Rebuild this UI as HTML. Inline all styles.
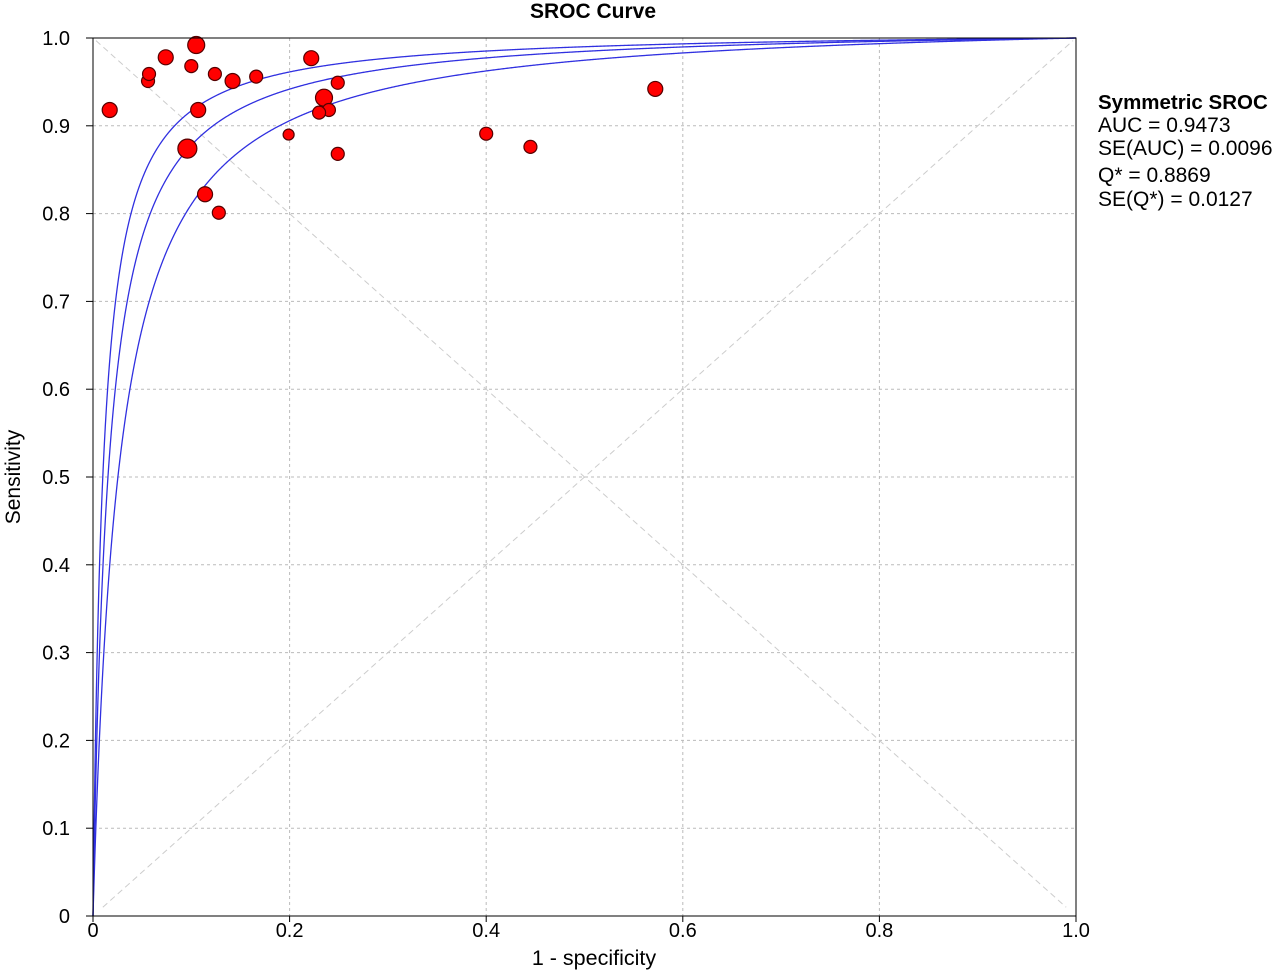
<!DOCTYPE html>
<html><head><meta charset="utf-8"><style>
body{margin:0;background:#fff;}
svg{display:block;font-family:"Liberation Sans",Arial,sans-serif;}
</style></head><body>
<svg id="chart" width="1280" height="973">
<text x="593" y="18" font-size="21" font-weight="bold" text-anchor="middle">SROC Curve</text>
<text transform="translate(20,477) rotate(-90)" font-size="21" text-anchor="middle">Sensitivity</text>
<text x="594" y="965" font-size="21.5" text-anchor="middle">1 - specificity</text>
<g font-size="21">
<text x="1098" y="109" font-weight="bold" font-size="20.5">Symmetric SROC</text>
<text x="1098" y="132">AUC = 0.9473</text>
<text x="1098" y="155">SE(AUC) = 0.0096</text>
<text x="1098" y="182">Q* = 0.8869</text>
<text x="1098" y="206">SE(Q*) = 0.0127</text>
</g>
<g id="grid"></g><g id="curves"></g><g id="points"></g><g id="axes"></g>
</svg>
<script>
const xTicks=[0,0.2,0.4,0.6,0.8,1.0];
const xTickLabels=["0","0.2","0.4","0.6","0.8","1.0"];
const yTicks=[0,0.1,0.2,0.3,0.4,0.5,0.6,0.7,0.8,0.9,1.0];
const yTickLabels=["0","0.1","0.2","0.3","0.4","0.5","0.6","0.7","0.8","0.9","1.0"];
const fprValues=[0.017,0.056,0.057,0.074,0.100,0.105,0.096,0.107,0.124,0.142,0.166,0.114,0.128,0.222,0.249,0.235,0.240,0.230,0.199,0.249,0.400,0.445,0.572];
const sensValues=[0.918,0.951,0.959,0.978,0.968,0.992,0.874,0.918,0.959,0.951,0.956,0.822,0.801,0.977,0.949,0.932,0.918,0.915,0.890,0.868,0.891,0.876,0.942];
const pointWeights=[7,6,6,7,6,8,9,7,6,7,6,7,6,7,6,8,6,6,5,6,6,6,7];
const curveParams=[4.6,4.17,3.65];
const X0=93,X1=1076,Y0=916,Y1=38;
const sx=v=>X0+v*(X1-X0), sy=v=>Y0-v*(Y0-Y1);
const NS="http://www.w3.org/2000/svg";
function mk(tag,attrs,parent){const e=document.createElementNS(NS,tag);for(const k in attrs)e.setAttribute(k,attrs[k]);parent.appendChild(e);return e;}
const grid=document.getElementById('grid'),axes=document.getElementById('axes'),curves=document.getElementById('curves'),pts=document.getElementById('points');
xTicks.forEach((t,i)=>{
 if(t>0&&t<1){const l=mk('line',{x1:sx(t),x2:sx(t),y1:Y1,y2:Y0,stroke:'#bbb','stroke-dasharray':'3,3'},grid);
 
 }
 const tk=mk('line',{x1:sx(t),x2:sx(t),y1:Y0,y2:Y0+6,stroke:'#000'},axes);
 
 
 const tx=mk('text',{x:sx(t),y:Y0+21,'font-size':20,'text-anchor':'middle'},axes);tx.textContent=xTickLabels[i];
 
 
});
yTicks.forEach((t,i)=>{
 if(t>0&&t<1){const l=mk('line',{x1:X0,x2:X1,y1:sy(t),y2:sy(t),stroke:'#bbb','stroke-dasharray':'3,3'},grid);
 
 }
 const tk=mk('line',{x1:X0-7,x2:X0,y1:sy(t),y2:sy(t),stroke:'#000'},axes);
 
 
 const tx=mk('text',{x:X0-23,y:sy(t)+7,'font-size':20,'text-anchor':'end'},axes);tx.textContent=yTickLabels[i];
 
 
});
const d1=mk('line',{x1:sx(0.003),y1:sy(0.997),x2:sx(0.99),y2:sy(0.01),stroke:'#ccc','stroke-dasharray':'6,4'},grid);


const d2=mk('line',{x1:sx(0.01),y1:sy(0.01),x2:sx(0.997),y2:sy(0.997),stroke:'#ccc','stroke-dasharray':'6,4'},grid);


const frame=mk('rect',{x:X0,y:Y1,width:X1-X0,height:Y0-Y1,fill:'none',stroke:'#000','stroke-width':1},axes);


const names=['sroc-upper-ci','sroc-curve','sroc-lower-ci'];
curveParams.forEach((a,ci)=>{
 let d='';
 for(let i=0;i<=2000;i++){const f=Math.pow(i/2000,3);const fc=Math.max(f,1e-7);
  const lg=Math.log(fc/(1-fc))+a;let s=f>=1?1:1/(1+Math.exp(-lg));if(f<=0)s=0;
  d+=(i?'L':'M')+sx(f).toFixed(2)+','+sy(s).toFixed(2);}
 const p=mk('path',{d:d,fill:'none',stroke:'#3030e0','stroke-width':1.3},curves);
 
 
});
fprValues.forEach((f,i)=>{
 const c=mk('circle',{cx:sx(f),cy:sy(sensValues[i]),r:pointWeights[i]+0.5,fill:'#f00',stroke:'#500','stroke-width':1.2},pts);
 
 
});
</script>
</body></html>
